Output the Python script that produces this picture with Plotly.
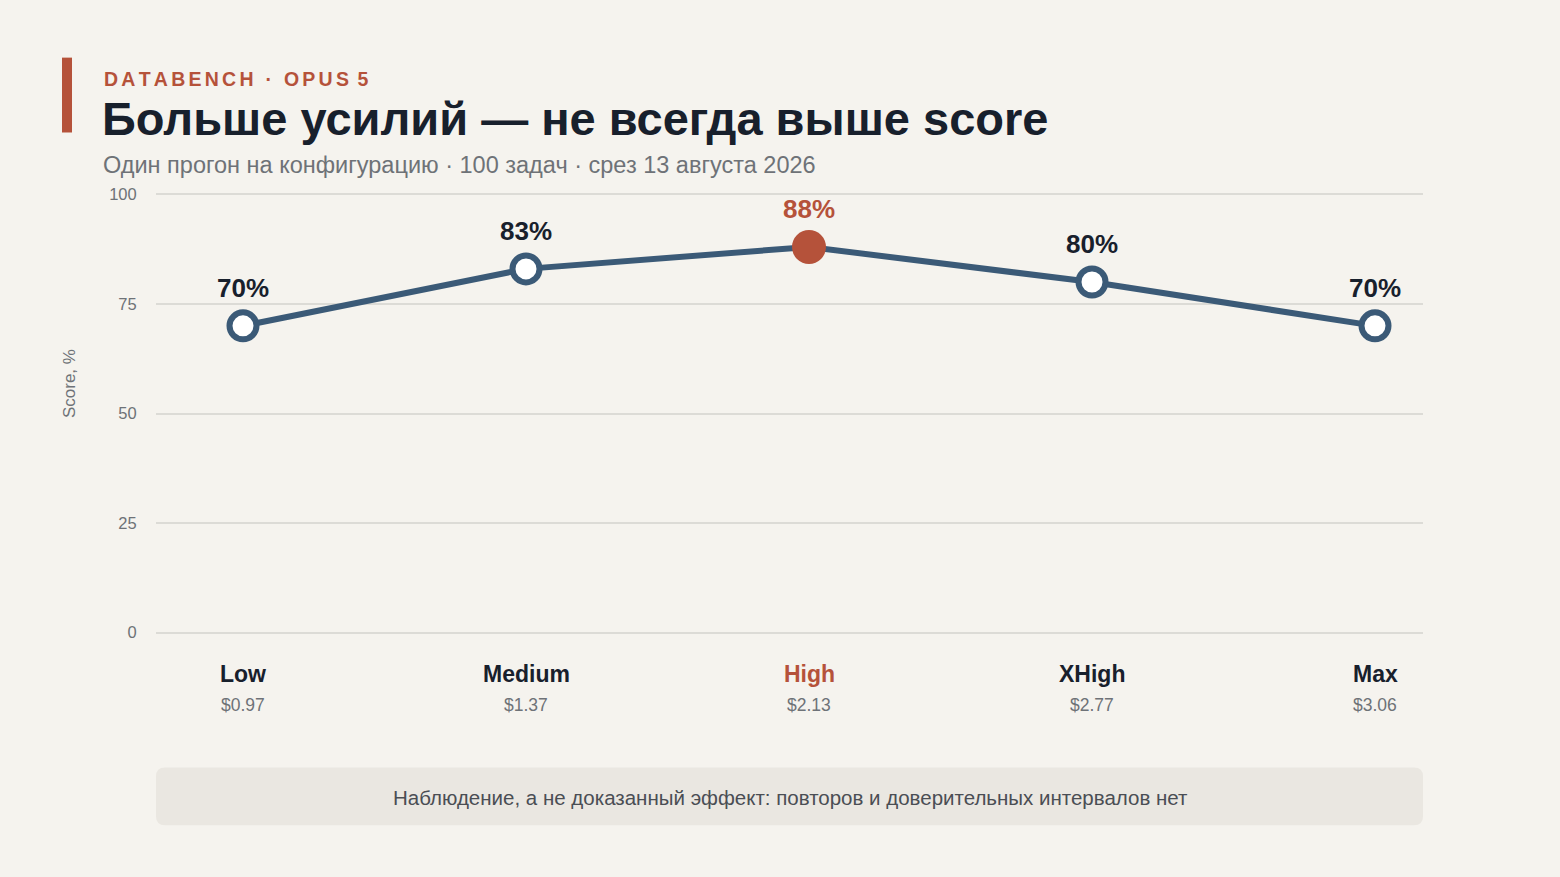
import plotly.graph_objects as go

levels = ["Low", "Medium", "High", "XHigh", "Max"]
scores = [70, 83, 88, 80, 70]
costs = ["$0.97", "$1.37", "$2.13", "$2.77", "$3.06"]
highlight = "High"
y_ticks = [0, 25, 50, 75, 100]

BG = "#F5F3EE"
INK = "#18202C"
LINE = "#3B5A77"
ACCENT = "#B5523A"
MUTED = "#6E7277"
GRID = "#DCDBD6"
FONT = "Liberation Sans, Arial, sans-serif"

W, H = 1560, 877
L, R = 156, 1423
Y100, Y0 = 194, 633
PAD = 1.0  # y-units of padding so edge gridlines are drawn
unit = (Y0 - Y100) / 100
T = Y100 - PAD * unit
B = Y0 + PAD * unit
pw, ph = R - L, B - T

def px(x):
    return (x - L) / pw

def py(y):
    return (B - y) / ph

xs = list(range(len(levels)))
is_hi = [lv == highlight for lv in levels]

fig = go.Figure()
fig.add_trace(go.Scatter(
    x=xs, y=scores, mode="lines",
    line=dict(color=LINE, width=6),
    hoverinfo="skip", showlegend=False,
))
fig.add_trace(go.Scatter(
    x=[x for x, h in zip(xs, is_hi) if not h],
    y=[s for s, h in zip(scores, is_hi) if not h],
    mode="markers",
    marker=dict(size=27, color="white", line=dict(color=LINE, width=6)),
    hoverinfo="skip", showlegend=False,
))
fig.add_trace(go.Scatter(
    x=[x for x, h in zip(xs, is_hi) if h],
    y=[s for s, h in zip(scores, is_hi) if h],
    mode="markers",
    marker=dict(size=34, color=ACCENT, line=dict(width=0)),
    hoverinfo="skip", showlegend=False,
))

ann = []
for x, s, lv, c, h in zip(xs, scores, levels, costs, is_hi):
    ann.append(dict(x=x, y=s, xref="x", yref="y", text=f"<b>{s}%</b>",
                    showarrow=False, yshift=38,
                    font=dict(family=FONT, size=26, color=ACCENT if h else INK)))
    ann.append(dict(x=x, y=py(674), xref="x", yref="paper", text=f"<b>{lv}</b>",
                    showarrow=False, yanchor="middle",
                    font=dict(family=FONT, size=23, color=ACCENT if h else INK)))
    ann.append(dict(x=x, y=py(706), xref="x", yref="paper", text=c,
                    showarrow=False, yanchor="middle",
                    font=dict(family=FONT, size=17.5, color=MUTED)))

hs = "\u200a\u200a"
eyebrow = (hs.join(list("DATABENCH")) + hs + " \u200a\u200a·\u200a\u200a " + hs
           + hs.join(list("OPUS")) + hs + " 5")

# header
ann.append(dict(x=px(102), y=py(78), xref="paper", yref="paper",
                text=f"<b>{eyebrow}</b>",
                showarrow=False, xanchor="left", yanchor="middle",
                font=dict(family=FONT, size=19.5, color=ACCENT)))
ann.append(dict(x=px(100), y=py(118), xref="paper", yref="paper",
                text="<b>Больше усилий — не всегда выше score</b>",
                showarrow=False, xanchor="left", yanchor="middle",
                font=dict(family=FONT, size=47, color=INK)))
ann.append(dict(x=px(101), y=py(165), xref="paper", yref="paper",
                text="Один прогон на конфигурацию · 100 задач · срез 13 августа 2026",
                showarrow=False, xanchor="left", yanchor="middle",
                font=dict(family=FONT, size=23.5, color=MUTED)))
ann.append(dict(x=px(69), y=py(384), xref="paper", yref="paper",
                text="Score, %", textangle=-90,
                showarrow=False, xanchor="center", yanchor="middle",
                font=dict(family=FONT, size=17, color=MUTED)))
ann.append(dict(x=px(790), y=py(798), xref="paper", yref="paper",
                text="Наблюдение, а не доказанный эффект: повторов и доверительных интервалов нет",
                showarrow=False, xanchor="center", yanchor="middle",
                font=dict(family=FONT, size=20.5, color="#4A4E54")))

# rounded footer box
x0, x1, y0, y1, r = 156, 1423, 768, 826, 9
def P(x, y):
    return f"{px(x):.5f},{py(y):.5f}"
path = (f"M {P(x0+r, y0)} L {P(x1-r, y0)} Q {P(x1, y0)} {P(x1, y0+r)} "
        f"L {P(x1, y1-r)} Q {P(x1, y1)} {P(x1-r, y1)} "
        f"L {P(x0+r, y1)} Q {P(x0, y1)} {P(x0, y1-r)} "
        f"L {P(x0, y0+r)} Q {P(x0, y0)} {P(x0+r, y0)} Z")

shapes = [
    dict(type="path", xref="paper", yref="paper", path=path,
         fillcolor="#EAE7E1", line=dict(width=0), layer="below"),
    dict(type="rect", xref="paper", yref="paper",
         x0=px(62), x1=px(72), y0=py(132), y1=py(57),
         fillcolor=ACCENT, line=dict(width=0)),
]

x_lo = -(243 - L) / 283
x_hi = 4 + (R - 1375) / 283

fig.update_layout(
    width=W, height=H,
    margin=dict(l=L, r=W - R, t=T, b=H - B, pad=0),
    paper_bgcolor=BG, plot_bgcolor=BG,
    font=dict(family=FONT),
    xaxis=dict(range=[x_lo, x_hi], showgrid=False, zeroline=False,
               showticklabels=False, fixedrange=True),
    yaxis=dict(range=[-PAD, 100 + PAD], tickvals=y_ticks, showgrid=True, gridcolor=GRID,
               gridwidth=1.5, zeroline=False, showline=False,
               ticks="outside", ticklen=15, tickcolor="rgba(0,0,0,0)",
               tickfont=dict(family=FONT, size=16.5, color=MUTED), fixedrange=True),
    annotations=ann,
    shapes=shapes,
)

fig.write_html("out.html", config={"displayModeBar": False},
               post_script="document.body.style.margin='0';document.body.style.background='" + BG + "';")
